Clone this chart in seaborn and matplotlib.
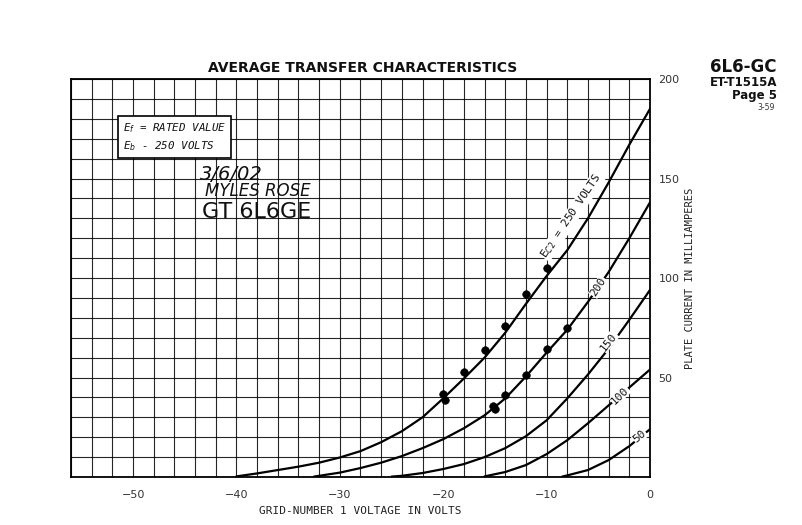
import matplotlib
matplotlib.use("Agg")
import matplotlib.pyplot as plt
from matplotlib.ticker import MultipleLocator, FuncFormatter
import seaborn as sns
import pandas as pd

# grid-number 1 voltage (V) and plate current (mA)
vg_250 = [-40, -38, -36, -34, -32, -30, -28, -26, -24, -22, -20, -18, -16, -14, -12, -10, -8, -6, -4, -2, 0]
ib_250 = [0.3, 1.8, 3.5, 5.2, 7.2, 9.8, 13, 17.5, 23, 30, 39.5, 49.5, 60, 72.5, 87, 101, 114, 130, 148, 167, 185]
vg_200 = [-32.5, -32, -30, -28, -26, -24, -22, -20, -18, -16, -14, -12, -10, -8, -6, -4, -2, 0]
ib_200 = [0.2, 0.6, 2.2, 4.5, 7.2, 10.5, 14.5, 19, 24.5, 31, 39.5, 50.5, 62.5, 74, 88, 103, 120, 138]
vg_150 = [-25, -24, -22, -20, -18, -16, -14, -12, -10, -8, -6, -4, -2, 0]
ib_150 = [0.2, 0.6, 2, 4, 6.5, 10, 14.5, 20.5, 28.5, 39.5, 51.5, 64.5, 79, 94]
vg_100 = [-16, -14, -12, -10, -8, -6, -4, -2, 0]
ib_100 = [0.3, 2.5, 6, 11.5, 18.5, 27, 36, 45, 54]
vg_50 = [-8.5, -8, -6, -4, -2, 0]
ib_50 = [0.2, 0.8, 3.5, 8.5, 15.5, 24]

# hand-plotted measurement dots
dot_vg = [-20, -19.8, -18, -16, -14, -12, -10, -15.2, -15.0, -14, -12, -10, -8]
dot_ib = [41.5, 38.5, 53, 64, 76, 92, 105, 35.5, 34, 41, 51.5, 64.5, 75]

# curve labels: text, x, y, angle
curve_labels = [
    ("E$_{C2}$ = 250 VOLTS", -7.6, 131, 56),
    ("200", -5.0, 95.5, 57),
    ("150", -4.0, 68, 52),
    ("100", -2.9, 41, 44),
    ("50", -1.0, 20.5, 40),
]

frames = []
for ec2, vg, ib in [(250, vg_250, ib_250), (200, vg_200, ib_200), (150, vg_150, ib_150),
                    (100, vg_100, ib_100), (50, vg_50, ib_50)]:
    frames.append(pd.DataFrame({"vg": vg, "ib": ib, "ec2": ec2}))
curves = pd.concat(frames, ignore_index=True)
dots = pd.DataFrame({"vg": dot_vg, "ib": dot_ib})

sns.set_theme(style="white")
plt.rcParams["font.family"] = ["DejaVu Sans"]

W, H = 803, 525
fig = plt.figure(figsize=(W / 100, H / 100), dpi=100)
ax = fig.add_axes([71 / W, 1 - 477 / H, (650 - 71) / W, (477 - 79) / H])


def fx(x):
    return x / W


def fy(y):
    return 1 - y / H


sns.lineplot(data=curves, x="vg", y="ib", units="ec2", estimator=None, sort=False,
             color="black", lw=1.6, ax=ax)
sns.scatterplot(data=dots, x="vg", y="ib", color="black", s=30, edgecolor="black",
                zorder=5, ax=ax)

ax.set_xlim(-56, 0)
ax.set_ylim(0, 200)
ax.xaxis.set_major_locator(MultipleLocator(10))
ax.xaxis.set_minor_locator(MultipleLocator(2))
ax.yaxis.set_major_locator(MultipleLocator(50))
ax.yaxis.set_minor_locator(MultipleLocator(10))
ax.grid(True, which="both", color="black", lw=0.8, alpha=0.85)
ax.set_axisbelow(True)
for s in ax.spines.values():
    s.set_color("black")
    s.set_linewidth(1.3)

ax.yaxis.tick_right()
ax.yaxis.set_label_position("right")
ax.yaxis.set_major_formatter(FuncFormatter(lambda v, p: "" if v == 0 else f"{v:.0f}"))
ax.xaxis.set_major_formatter(FuncFormatter(lambda v, p: f"\u2212{-v:.0f}" if v < 0 else "0"))
ax.tick_params(axis="both", which="both", length=0, labelsize=8, labelcolor="#333333")
ax.tick_params(axis="x", pad=9)
ax.tick_params(axis="y", pad=6)

ax.set_xlabel("GRID-NUMBER 1 VOLTAGE IN VOLTS", family="DejaVu Sans Mono", fontsize=8,
              color="#222222", labelpad=5)
ax.set_ylabel("PLATE CURRENT IN MILLIAMPERES", family="DejaVu Sans Mono", fontsize=7.5,
              color="#222222", labelpad=4)

for txt, x, y, ang in curve_labels:
    ax.text(x, y, txt, rotation=ang, rotation_mode="anchor", ha="center", va="center",
            family="DejaVu Sans Mono", fontsize=8, color="#111111",
            bbox=dict(boxstyle="square,pad=0.05", fc="white", ec="none"), zorder=4)

# conditions box
ax.text(fx(123), fy(137), "E$_f$ = RATED VALUE\nE$_b$ - 250 VOLTS", transform=fig.transFigure,
        family="DejaVu Sans Mono", style="italic", fontsize=7.8, linespacing=1.4,
        ha="left", va="center", color="#111111",
        bbox=dict(boxstyle="square,pad=0.45", fc="white", ec="black", lw=1.2), zorder=6)

# handwritten notes
fig.text(fx(200), fy(174), "3/6/02", fontsize=14, style="italic", color="#111111",
         ha="left", va="center")
fig.text(fx(205), fy(191), "MYLES ROSE", fontsize=12, style="italic", color="#111111",
         ha="left", va="center")
fig.text(fx(202), fy(212), "GT 6L6GE", fontsize=16, color="#111111", ha="left", va="center")

# header
fig.text(fx(363), fy(68), "AVERAGE TRANSFER CHARACTERISTICS", fontsize=10, weight="bold",
         ha="center", va="center", color="#111111")
fig.text(fx(777), fy(67), "6L6-GC", fontsize=12, weight="bold", ha="right", va="center",
         color="#111111")
fig.text(fx(777), fy(83), "ET-T1515A", fontsize=8.5, weight="bold", ha="right", va="center",
         color="#111111")
fig.text(fx(777), fy(96), "Page 5", fontsize=8.5, weight="bold", ha="right", va="center",
         color="#111111")
fig.text(fx(775), fy(108), "3-59", fontsize=5.5, ha="right", va="center", color="#333333")

fig.savefig("out.png", dpi=100)
